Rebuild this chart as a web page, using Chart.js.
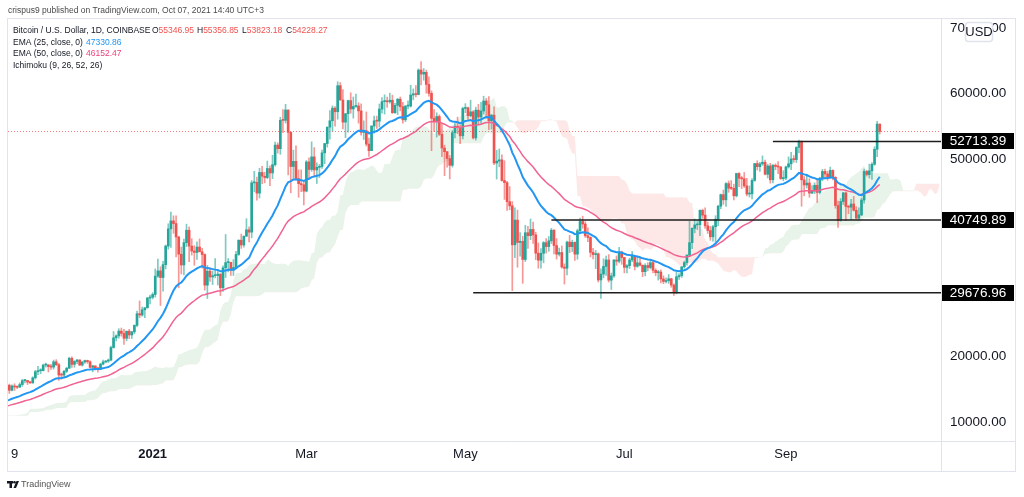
<!DOCTYPE html>
<html>
<head>
<meta charset="utf-8">
<title>Bitcoin / U.S. Dollar, 1D, COINBASE</title>
<script src="https://cdn.jsdelivr.net/npm/chart.js@4.4.1/dist/chart.umd.min.js"></script>
<style>
  html, body { margin: 0; padding: 0; background: #fff; }
  canvas { display: block; }
</style>
</head>
<body>
<canvas id="btcChart" width="1024" height="497"></canvas>
<script>
// daily candles, Coinbase BTC/USD, first one is 2020-08-20
const START_DATE = '2020-08-20';
const FIRST_OPEN = 11750;
const X_MIN = '2020-11-07';
const X_MAX = '2021-10-30';

const CLOSE = [
  11860,11520,11680,11650,11760,11330,11470,11330,11540,11470,11710,11660,
  11920,11390,10170,10470,10170,10260,10380,10130,10230,10350,10390,10440,10330,10680,10790,10960,10940,10930,11080,10920,10420,10530,10240,10740,10690,10720,10770,10700,10840,10780,
  10620,10570,10550,10670,10790,10600,10670,10920,11060,11300,11370,11540,11430,11430,11500,11320,11360,11510,11750,11920,12800,12970,12930,13110,13030,13070,13640,13270,13460,13560,13800,
  13760,13550,14030,14150,15590,15590,14830,15480,15330,15300,15700,16290,16320,16070,15960,16730,17660,17800,17820,18660,18700,18420,18360,19160,18720,17150,17140,17720,18180,19700,
  18770,19220,19430,18670,19150,19360,19170,18320,18540,18250,18030,18810,19140,19270,19430,21340,22810,23110,23840,23480,22740,23820,23250,23730,24710,26490,26280,27080,27390,28870,28990,
  29410,32200,33000,31990,33950,36780,39400,40610,40200,38160,35540,33900,37300,39190,36770,36020,35810,36630,35900,35490,30830,32960,32080,32270,32290,32510,30430,33470,34260,34300,33110,
  33520,35510,37670,36940,38290,39250,38900,46400,46480,44840,47980,47410,47210,48580,47910,49170,52150,51600,55920,55910,57490,54080,48890,49680,47060,46280,46110,45140,
  49590,48440,50350,48370,48760,48880,50970,52380,54880,55850,57770,57220,61190,59000,55640,56930,58920,57650,58030,58100,57350,54080,54340,52300,51300,55050,55840,55790,57630,58760,58800,
  58740,58970,57080,58200,59130,57990,56000,58090,58090,59770,59960,59840,63570,62960,63220,61380,60030,56230,55700,56500,53800,51700,51140,50100,49070,54030,55030,54840,53560,57720,
  57830,56620,57210,53240,57470,56430,57340,58860,58280,55860,56710,49420,49710,49900,46760,46430,43540,42900,36970,40730,37320,37510,34740,38810,38360,39310,38480,35700,34620,35680,37300,
  36700,37580,39190,36860,35540,35800,33590,33400,37390,36690,37340,35550,39100,40520,40140,38350,38090,35820,35480,35600,31620,32510,33680,34660,31590,32240,34660,34470,35870,35040,
  33540,33800,34660,35290,33690,34220,33860,32880,33820,33510,34260,33090,32730,32820,31780,31390,31530,31800,30840,29800,32110,32290,33620,34270,35420,37300,39470,40000,40030,42220,41490,
  39860,39150,38190,39720,40870,42840,44610,43820,46290,45590,45570,44430,47830,47100,47020,45940,44700,44730,46770,49340,48860,49290,49540,47710,48970,46870,49080,48900,48810,47050,47130,
  48830,49300,50030,49940,51790,52700,46860,46070,46370,44850,45170,46030,44940,47110,48140,47750,47300,48300,47250,42950,40710,43560,44870,42810,42700,43180,42230,41030,41520,43790,
  48140,47670,48230,49230,51510,55346.95,54228.27
];

const HIGH = [
  11880,11880,11690,11710,11810,11770,11530,11590,11550,11570,11720,11790,
  12080,11950,11460,10640,10570,10350,10400,10430,10350,10480,10400,10480,10580,10800,10940,11100,11040,11030,11180,11080,10990,10570,10550,10770,10760,10800,10800,10950,10860,10840,
  10930,10660,10600,10700,10800,10800,10690,10960,11110,11490,11440,11720,11560,11550,11630,11540,11400,11520,11820,12030,13220,13180,13030,13160,13340,13240,13790,13860,13640,13680,14090,
  13900,13820,14070,14250,15750,15970,15770,15660,15830,15470,15970,16480,16480,16330,16140,16880,17860,18480,18120,18810,18960,18710,18770,19420,19490,18920,17450,17880,18340,19860,
  19920,19340,19550,19500,19170,19410,19420,19300,18640,18550,18270,18950,19410,19350,19580,21560,23770,23280,24200,24300,24100,23840,24110,23790,24790,26870,28420,27500,27400,28990,29300,
  29680,33300,34780,33630,34440,36940,40170,41950,41380,41370,38270,36630,37850,40110,39710,37900,36850,37410,37860,36440,35600,33830,33460,32970,34880,32920,32560,33780,38530,34880,34330,
  34720,35980,37730,38600,38310,40950,39700,46750,48160,47290,48620,48900,48020,49710,49000,50600,52600,52500,56370,57540,58350,57500,54180,51380,52020,48370,48390,46610,
  49800,50200,52640,51770,49450,49200,51400,52400,54900,57390,58110,58000,61790,61670,60610,56950,58980,60110,59470,59900,58590,58430,55840,57200,53230,55090,56580,56560,58400,59370,59800,
  59460,60040,59750,58490,59250,59470,58660,58150,58870,61250,60700,61190,63750,64850,63800,63560,62550,60400,57560,57060,56750,55450,52130,51200,50570,54350,55450,56400,55170,57910,
  58450,57930,58980,57400,57920,58360,58650,59590,59250,59550,56820,57970,51370,51560,50670,49770,46620,45830,43550,42580,42250,38850,38270,39940,39800,40900,40430,38870,37250,36400,37470,
  37900,38230,39480,39290,37910,36480,36790,34070,37530,38400,37680,37440,39360,41030,41330,40500,39560,38190,36440,36110,35740,33300,34850,35270,35480,32670,34730,35280,36600,36000,
  35070,33950,34940,35950,35290,35080,35050,33900,34100,34250,34600,34660,33340,33100,33180,32250,31950,32440,31890,31040,32860,32580,33650,34490,35420,40550,39540,40900,40630,42310,42400,
  42600,40430,39770,39950,41400,43000,44700,45300,46430,46690,46740,46200,47870,47970,47380,47980,47100,45940,47040,49360,49760,49510,50500,49870,49230,49370,49170,49300,49640,48920,48250,
  48950,50360,51050,50560,51900,52920,52800,47360,47400,47040,45970,46400,46900,47260,48450,48500,48170,48800,48370,47330,43620,44000,44960,45000,42960,43900,44330,42780,42600,44090,
  48490,48320,49250,49500,51900,55750,55356.85
];

const LOW = [
  11690,11480,11380,11520,11600,11130,11270,11160,11290,11430,11460,11590,
  11660,11200,10020,9920,9880,10050,9870,9850,10010,10200,10220,10320,10200,10270,10650,10660,10760,10820,10890,10800,10370,10360,10140,10210,10590,10650,10620,10650,10640,10670,
  10530,10380,10500,10530,10610,10520,10570,10620,10830,11060,11280,11220,11310,11300,11270,11220,11310,11350,11400,11690,11900,12700,12730,12880,12920,12790,13050,12930,12980,13130,13420,
  13620,13210,13290,13520,14090,15200,14350,14720,14800,15080,15280,15420,15950,15700,15870,15880,16530,17210,17350,17760,18350,17620,18000,18050,18580,16330,16500,16880,17520,18180,
  18320,18330,18890,18570,18500,18920,18910,18200,17630,17910,17570,18020,18700,19000,19050,19280,21230,22350,22750,23070,21810,22350,22700,22700,23430,24500,25870,26100,25880,27330,27990,
  28720,29000,32000,27730,29900,33300,36310,36570,38720,35110,30420,32530,32380,36700,34390,35400,33850,34750,35900,33400,30070,28800,31400,30920,31940,30840,29240,29870,31990,32850,32300,
  32300,33430,35350,36430,36600,38220,37400,38030,45050,43770,44100,46290,46400,47040,45980,47040,48940,50920,50740,54020,55500,47620,44890,47080,46850,44200,45060,43040,
  45020,47070,48140,47500,46300,47200,48600,49300,51840,53060,54270,55030,56080,59000,54600,53270,54120,57000,56260,57870,55490,53650,53000,52000,50430,51330,53960,54690,54900,57020,56870,
  57900,58520,56960,56950,56790,57360,55470,55720,57640,57930,59040,59470,59800,61300,62020,60050,59600,51300,54200,53370,53600,50400,47500,48800,47000,48800,53250,53890,52350,53080,
  57070,56030,56450,53070,52900,55200,55450,56870,56270,54500,54580,49150,46980,48840,46670,43880,42200,42300,30000,35000,33550,35250,31110,34420,36420,37760,37200,34700,33400,33400,34220,
  35700,35980,37170,35600,34800,35260,33400,31000,32400,35780,35940,34600,34770,38750,39500,38100,37440,35130,34820,33350,31300,28800,31950,32300,31300,30170,32000,33850,34200,34000,
  32700,32700,33350,34400,33150,33550,33770,32120,32250,33020,33300,32700,32260,31600,31170,31050,31170,31100,30500,29280,29510,31720,32000,33400,33880,35210,36400,38800,39300,38350,41000,
  39450,38700,37660,37520,37340,39890,42460,43130,42800,44970,45360,43800,44240,45810,45530,45690,44400,44250,43970,46630,48350,48150,49050,47620,47150,46350,46400,48390,47800,46930,46720,
  46870,48640,48400,49530,49500,50970,42840,44430,45600,44200,44770,44760,43400,44700,46720,47050,46800,47080,46850,42540,39600,40570,43100,40650,41700,40800,42100,40900,40750,41400,
  43300,47430,47130,46920,49070,50400,53823.18
];

// 30000 and 40000 sit under the level labels, so the axis leaves them out
const Y_TICKS = [10000, 20000, 50000, 60000, 70000];
const X_TICK_DATES = ['2020-11-09', '2021-01-01', '2021-03-01', '2021-05-01', '2021-07-01', '2021-09-01'];
const X_TICK_TEXT = ['9', '2021', 'Mar', 'May', 'Jul', 'Sep'];

// horizontal levels drawn on the chart, with the day they start on
const LEVEL_VALUES = [52713.39, 40749.89, 29676.96];
const LEVEL_FROM = ['2021-08-27', '2021-06-03', '2021-05-04'];

const FONT = '"Liberation Sans", Arial, sans-serif';
const UP = '#26a69a';
const DOWN = '#ef5350';

// one label per calendar day, running past the last candle so the cloud shows
const LABELS = [];
for (let d = new Date(START_DATE + 'T00:00:00Z'); ; d.setUTCDate(d.getUTCDate() + 1)) {
  const s = d.toISOString().slice(0, 10);
  LABELS.push(s);
  if (s === X_MAX) break;
}

// crypto trades round the clock: each day opens at the previous close
const OPEN = CLOSE.map((c, i) => (i === 0 ? FIRST_OPEN : CLOSE[i - 1]));

function ema(values, length) {
  const k = 2 / (length + 1);
  let prev = null;
  return values.map((v, i) => {
    if (i < length - 1) return null;
    if (prev === null) prev = values.slice(0, length).reduce((a, b) => a + b, 0) / length;
    else prev = v * k + prev * (1 - k);
    return prev;
  });
}

function midpoint(i, len) {
  if (i < len - 1) return null;
  let hi = -Infinity, lo = Infinity;
  for (let j = i - len + 1; j <= i; j++) {
    hi = Math.max(hi, HIGH[j]);
    lo = Math.min(lo, LOW[j]);
  }
  return (hi + lo) / 2;
}

// Ichimoku (9, 26, 52, 26): leading spans are shifted 25 bars forward
const spanA = LABELS.map(() => null);
const spanB = LABELS.map(() => null);
CLOSE.forEach((_, i) => {
  const t = i + 25;
  if (t >= LABELS.length || i < 51) return;
  spanA[t] = (midpoint(i, 9) + midpoint(i, 26)) / 2;
  spanB[t] = midpoint(i, 52);
});

const wicks = CLOSE.map((c, i) => [Math.min(LOW[i], OPEN[i], c), Math.max(HIGH[i], OPEN[i], c)]);
const bodies = CLOSE.map((c, i) => [OPEN[i], c]);
const upDown = CLOSE.map((c, i) => c >= OPEN[i]);

const overlay = {
  id: 'overlay',
  beforeDraw(chart) {
    const ctx = chart.ctx;
    ctx.save();
    ctx.fillStyle = '#ffffff';
    ctx.fillRect(0, 0, chart.width, chart.height);
    ctx.restore();
  },
  beforeDatasetsDraw(chart) {
    const { ctx, chartArea: a, scales: { y } } = chart;
    const py = Math.round(y.getPixelForValue(CLOSE[CLOSE.length - 1])) + 0.5;
    ctx.save();
    ctx.strokeStyle = 'rgba(239,83,80,0.75)';
    ctx.lineWidth = 1;
    ctx.setLineDash([1, 2]);
    ctx.beginPath();
    ctx.moveTo(a.left, py);
    ctx.lineTo(a.right, py);
    ctx.stroke();
    ctx.restore();
  },
  afterDraw(chart) {
    const { ctx, chartArea: a, scales: { x, y } } = chart;
    ctx.save();

    // frame
    ctx.strokeStyle = '#e0e3eb';
    ctx.lineWidth = 1;
    ctx.strokeRect(7.5, 18.5, 1008, 453);
    ctx.beginPath();
    ctx.moveTo(a.right + 0.5, 18.5);
    ctx.lineTo(a.right + 0.5, 471.5);
    ctx.moveTo(7.5, a.bottom + 0.5);
    ctx.lineTo(1015.5, a.bottom + 0.5);
    ctx.stroke();

    // drawn levels and their price labels
    LEVEL_VALUES.forEach((v, i) => {
      const py = y.getPixelForValue(v);
      const px = x.getPixelForValue(LABELS.indexOf(LEVEL_FROM[i]));
      ctx.strokeStyle = '#1e1e1e';
      ctx.lineWidth = 1.5;
      ctx.beginPath();
      ctx.moveTo(px, py);
      ctx.lineTo(a.right, py);
      ctx.stroke();
      ctx.fillStyle = '#000000';
      ctx.fillRect(a.right + 1, Math.round(py) - 8, 72, 16);
      ctx.fillStyle = '#ffffff';
      ctx.font = '13.5px ' + FONT;
      ctx.textAlign = 'center';
      ctx.textBaseline = 'middle';
      ctx.fillText(v.toFixed(2), a.right + 37, Math.round(py) + 0.5);
    });

    // currency badge
    ctx.fillStyle = '#ffffff';
    ctx.strokeStyle = '#e0e3eb';
    ctx.beginPath();
    ctx.roundRect(965.5, 22.5, 27, 19, 3);
    ctx.fill();
    ctx.stroke();
    ctx.fillStyle = '#131722';
    ctx.font = '13px ' + FONT;
    ctx.textAlign = 'center';
    ctx.fillText('USD', 979, 32.5);

    // header and legend
    ctx.textAlign = 'left';
    ctx.textBaseline = 'middle';
    ctx.font = '8.5px ' + FONT;
    ctx.fillStyle = '#4a4a4a';
    ctx.fillText('crispus9 published on TradingView.com, Oct 07, 2021 14:40 UTC+3', 8, 11);

    ctx.fillStyle = '#131722';
    ctx.fillText('Bitcoin / U.S. Dollar, 1D, COINBASE', 13, 31);
    const last = CLOSE.length - 1;
    const ohlc = [['O', OPEN[last], 152], ['H', HIGH[last], 197], ['L', LOW[last], 242], ['C', CLOSE[last], 286]];
    ohlc.forEach(([k, v, px]) => {
      ctx.fillStyle = '#131722';
      ctx.fillText(k, px, 31);
      ctx.fillStyle = DOWN;
      ctx.fillText(v.toFixed(2), px + ctx.measureText(k).width, 31);
    });
    ctx.fillStyle = '#131722';
    ctx.fillText('EMA (25, close, 0)', 13, 43);
    ctx.fillText('EMA (50, close, 0)', 13, 54);
    ctx.fillText('Ichimoku (9, 26, 52, 26)', 13, 66);
    ctx.fillStyle = '#2196f3';
    ctx.fillText('47330.86', 86, 43);
    ctx.fillStyle = '#ec407a';
    ctx.fillText('46152.47', 86, 54);

    // TradingView mark
    ctx.fillStyle = '#131722';
    ctx.fillRect(7, 481, 6, 2.5);
    ctx.fillRect(9.5, 481, 2.5, 7);
    ctx.beginPath();
    ctx.arc(14.5, 482.3, 1.3, 0, Math.PI * 2);
    ctx.fill();
    ctx.beginPath();
    ctx.moveTo(16.5, 481);
    ctx.lineTo(19, 481);
    ctx.lineTo(16, 488);
    ctx.lineTo(13.5, 488);
    ctx.closePath();
    ctx.fill();
    ctx.fillStyle = '#555555';
    ctx.font = '9px ' + FONT;
    ctx.fillText('TradingView', 21, 485);

    ctx.restore();
  }
};

new Chart(document.getElementById('btcChart'), {
  type: 'bar',
  data: {
    labels: LABELS,
    datasets: [
      {
        type: 'line', label: 'Lead 1', data: spanA, order: 9,
        borderColor: 'transparent', borderWidth: 0, pointRadius: 0,
        fill: { target: '+1', above: 'rgba(67,160,71,0.12)', below: 'rgba(244,67,54,0.12)' }
      },
      {
        type: 'line', label: 'Lead 2', data: spanB, order: 9,
        borderColor: 'transparent', borderWidth: 0, pointRadius: 0, fill: false
      },
      {
        label: 'Wick', data: wicks, order: 5, grouped: false, barThickness: 1,
        backgroundColor: upDown.map(u => (u ? 'rgba(38,166,154,0.6)' : 'rgba(239,83,80,0.6)'))
      },
      {
        label: 'Body', data: bodies, order: 4, grouped: false, barThickness: 2, minBarLength: 1,
        backgroundColor: upDown.map(u => (u ? UP : DOWN))
      },
      {
        type: 'line', label: 'EMA 50', data: ema(CLOSE, 50), order: 2,
        borderColor: '#f06292', borderWidth: 1.5, pointRadius: 0, fill: false
      },
      {
        type: 'line', label: 'EMA 25', data: ema(CLOSE, 25), order: 1,
        borderColor: '#2196f3', borderWidth: 2, pointRadius: 0, fill: false
      }
    ]
  },
  options: {
    responsive: false,
    animation: false,
    events: [],
    devicePixelRatio: 1,
    layout: { padding: { left: 8, right: 8, top: 19, bottom: 25 } },
    plugins: {
      legend: { display: false },
      tooltip: { enabled: false }
    },
    scales: {
      x: {
        type: 'category',
        min: X_MIN,
        max: X_MAX,
        offset: true,
        grid: { display: false, drawTicks: false },
        border: { display: false },
        ticks: {
          autoSkip: false,
          maxRotation: 0,
          padding: 6,
          color: '#131722',
          font: c => ({ family: FONT, size: 13, weight: c.tick && X_TICK_TEXT[X_TICK_DATES.indexOf(LABELS[c.tick.value])] === '2021' ? 'bold' : 'normal' }),
          callback: value => X_TICK_TEXT[X_TICK_DATES.indexOf(LABELS[value])]
        },
        afterBuildTicks: s => { s.ticks = X_TICK_DATES.map(d => ({ value: LABELS.indexOf(d) })); },
        afterFit: s => { s.height = 31; }
      },
      y: {
        type: 'linear',
        position: 'right',
        min: 7108,
        max: 71340,
        grid: { display: false, drawTicks: false },
        border: { display: false },
        ticks: {
          padding: 9,
          color: '#131722',
          font: { family: FONT, size: 13.5 },
          callback: v => v.toFixed(2)
        },
        afterBuildTicks: s => { s.ticks = Y_TICKS.map(v => ({ value: v })); },
        afterFit: s => { s.width = 75; }
      }
    }
  },
  plugins: [overlay]
});
</script>
</body>
</html>
